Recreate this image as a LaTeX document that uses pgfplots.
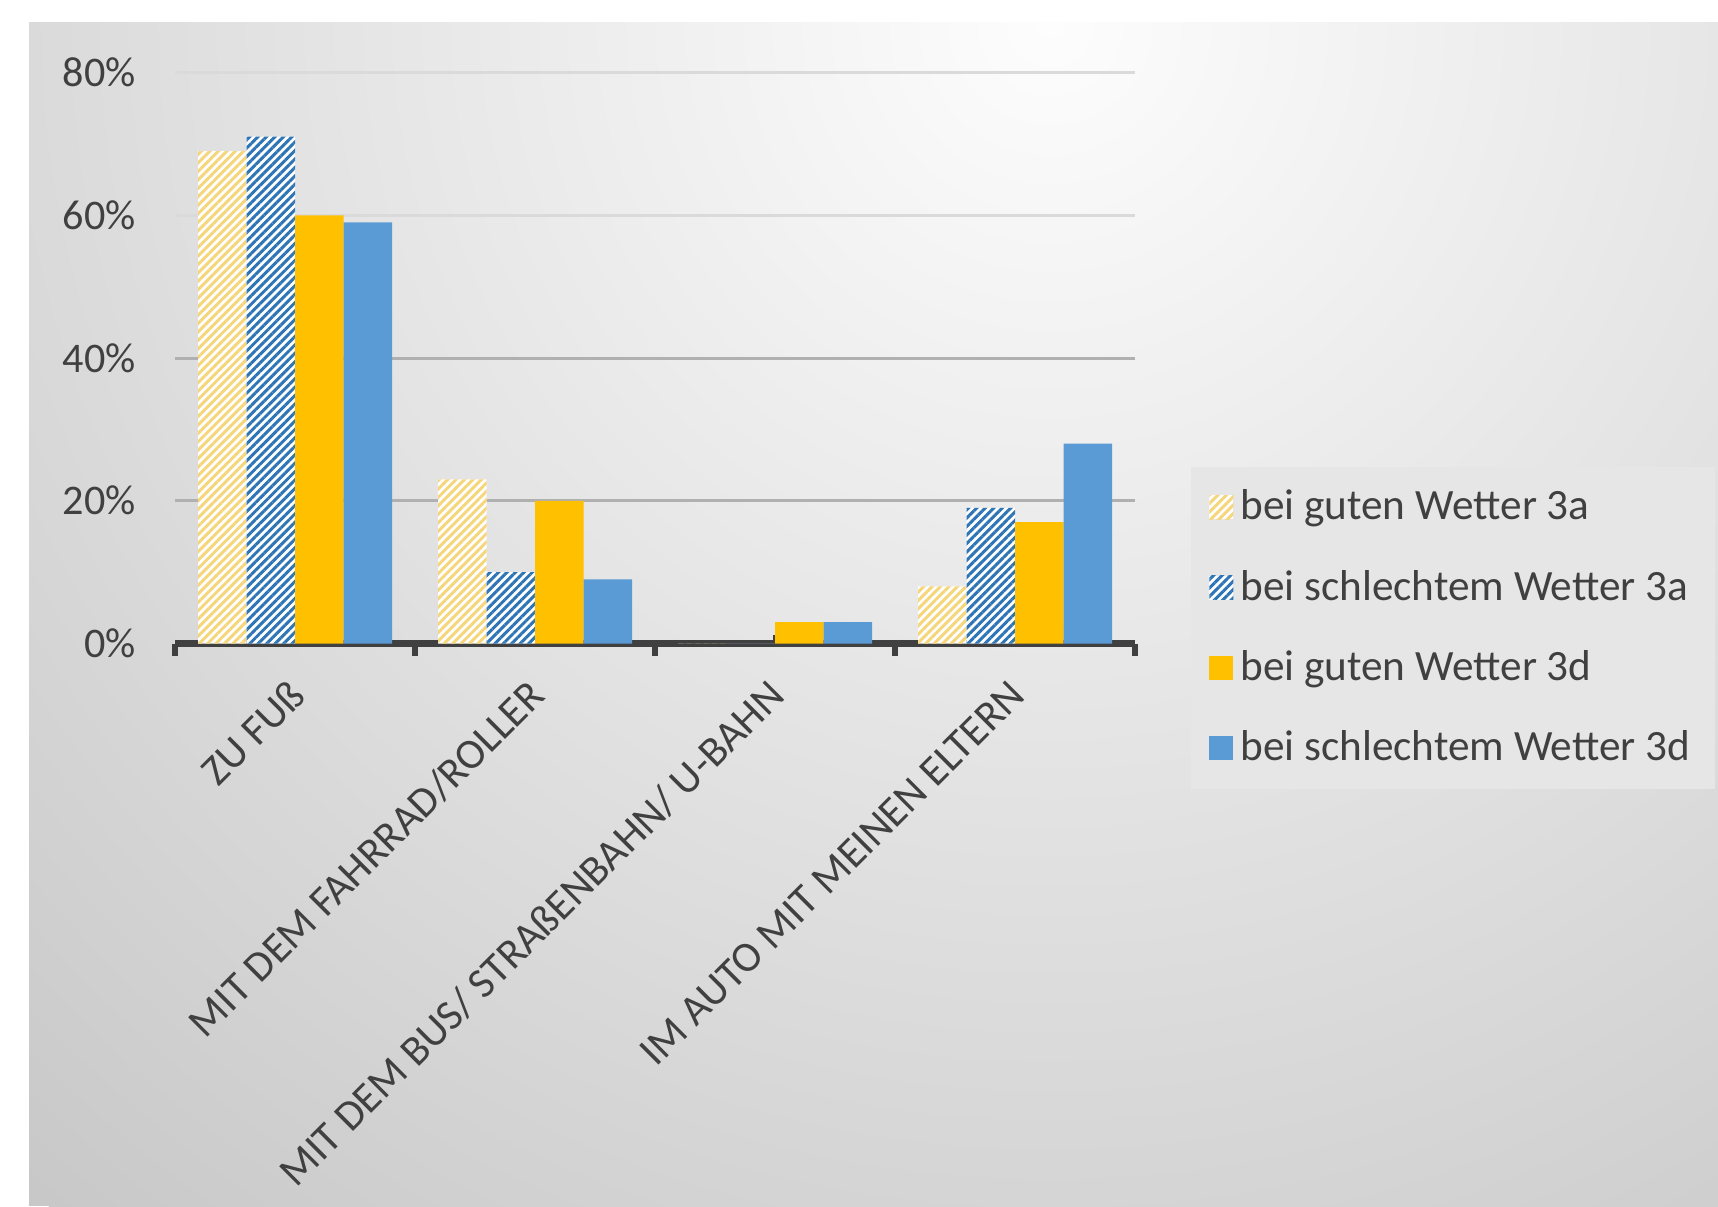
\documentclass[border=0pt]{standalone}
\usepackage{fontspec}
\setmainfont{Carlito}
\usepackage{pgfplots}
\pgfplotsset{compat=1.18}
\usetikzlibrary{patterns.meta}
\definecolor{ylw}{HTML}{FFC000}
\definecolor{blu}{HTML}{5B9BD5}
\definecolor{ylwh}{HTML}{F5D67A}
\definecolor{bluh}{HTML}{2E75B6}
\definecolor{txt}{HTML}{404040}
\definecolor{axc}{HTML}{404040}
\definecolor{bgin}{HTML}{FDFDFD}
\definecolor{bgout}{HTML}{C8C8C8}
\definecolor{legbg}{HTML}{E6E6E6}
\definecolor{gridA}{HTML}{B0B0B0}
\definecolor{gridB}{HTML}{DADADA}
\begin{document}
\begin{tikzpicture}
\fill[white] (0mm,0mm) rectangle (171.8mm,120.6mm);
\begin{scope}
\clip (2.9mm,0mm) rectangle (171.8mm,118.3mm);
\fill[bgout] (2.9mm,0mm) rectangle (171.8mm,118.3mm);
\shade[inner color=bgin, outer color=bgout] (105mm,118.3mm) circle (155mm);
\end{scope}
\begin{axis}[
  at={(17.5mm,56.25mm)}, anchor=south west,
  scale only axis, width=96mm, height=57.1mm,
  xmin=-0.5, xmax=3.5, ymin=0, ymax=80,
  ybar=0pt, bar width=4.85mm,
  axis x line*=bottom, axis y line*=left,
  y axis line style={draw=none},
  x axis line style={-, line width=2pt, color=axc},
  /pgf/number format/assume math mode=true,
  ytick={0,20,40},
  yticklabel={\pgfmathprintnumber{\tick}\%},
  extra y ticks={60,80},
  extra y tick labels={60\%,80\%},
  extra y tick style={ymajorgrids=true, major grid style={color=gridB, line width=0.85pt}},
  ymajorgrids=true,
  major grid style={color=gridA, line width=0.85pt},
  y tick label style={font=\fontsize{12}{14}\selectfont, color=txt, xshift=-1.5mm},
  ytick style={draw=none},
  xtick={-0.5,0.5,1.5,2.5,3.5},
  xticklabels={},
  tick align=outside,
  xtick style={line width=0.6mm, color=axc},
  major tick length=1.2mm,
  extra x ticks={0,1,2,3},
  extra x tick labels={ZU FUß, MIT DEM FAHRRAD/ROLLER, MIT DEM BUS/ STRAßENBAHN/ U-BAHN, IM AUTO MIT MEINEN ELTERN},
  extra x tick style={tick align=inside, major tick length=0.9mm, xtick style={line width=0.4mm, color=axc},
     xticklabel style={yshift=-3.6mm, xshift=1.1mm, rotate=45, anchor=east, font=\fontsize{12.1}{14}\selectfont, color=txt}},
  legend style={at={(axis description cs:1.058,0.311)}, anchor=north west, draw=none, fill=legbg,
     font=\fontsize{12.3}{14}\selectfont, text=txt, row sep=3.1mm, inner xsep=1.8mm, inner ysep=1.6mm},
  legend cell align=left,
  sq/.style={legend image code/.code={\draw[##1, draw=none] (-0.25mm,-1.2mm) rectangle (2.15mm,1.2mm);}},
]
\addplot[sq, draw=none, fill=white, postaction={pattern={Lines[angle=45,distance=1.7pt,line width=0.85pt]}, pattern color=ylwh}]
  coordinates {(0,69) (1,23) (2,0) (3,8)};
\addplot[sq, draw=none, fill=white, postaction={pattern={Lines[angle=45,distance=1.7pt,line width=0.85pt]}, pattern color=bluh}]
  coordinates {(0,71) (1,10) (2,0) (3,19)};
\addplot[sq, draw=none, fill=ylw] coordinates {(0,60) (1,20) (2,3) (3,17)};
\addplot[sq, draw=none, fill=blu] coordinates {(0,59) (1,9) (2,3) (3,28)};
\legend{bei guten Wetter 3a, bei schlechtem Wetter 3a, bei guten Wetter 3d, bei schlechtem Wetter 3d}
\end{axis}
\pgfresetboundingbox
\path[use as bounding box] (0mm,0mm) rectangle (171.8mm,120.6mm);
\end{tikzpicture}
\end{document}
